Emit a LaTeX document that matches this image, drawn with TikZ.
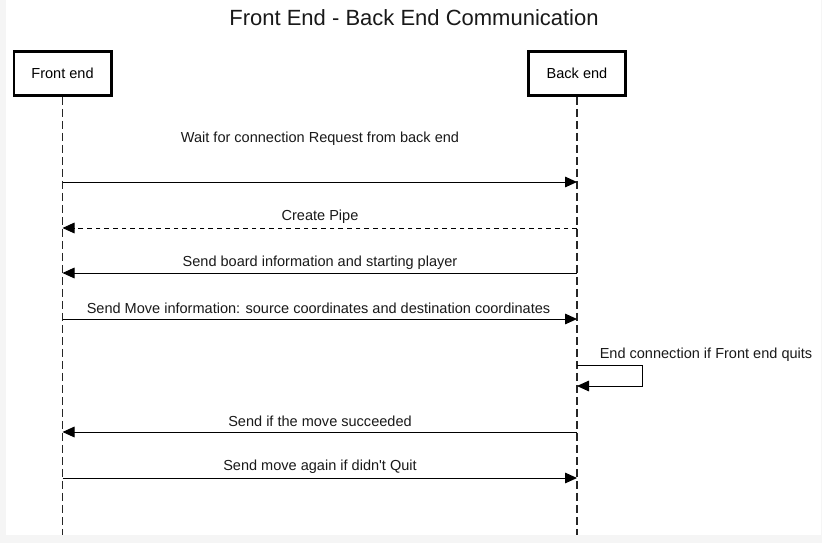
\documentclass[tikz,border=0pt]{standalone}
\usepackage{fontspec}
\setmainfont{Liberation Sans}
\newfontfamily\plainfont{Liberation Sans}
\usetikzlibrary{arrows.meta}
\begin{document}
\begin{tikzpicture}[x=0.75pt,y=-0.75pt,
  actor/.style={draw=black,line width=2pt,fill=white,minimum width=73pt,minimum height=33pt,inner sep=0pt,font=\fontsize{10.9pt}{13pt}\selectfont},
  lifeline/.style={draw=black!85,line width=1pt,dash pattern=on 6pt off 3pt},
  msg/.style={draw=black,line width=0.75pt,-{Triangle[length=9pt,width=8pt]}},
  reply/.style={msg,dash pattern=on 3.5pt off 3pt},
  lbl/.style={font=\fontsize{10.9pt}{13pt}\selectfont,inner sep=0pt,text=black!90},
  titlestyle/.style={font=\fontsize{16.5pt}{19pt}\selectfont,inner sep=0pt,text=black!90}]
\useasboundingbox (0,0) rectangle (822,543);
\fill[black!4] (0,0) rectangle (822,543);
\fill[white] (6,0) rectangle (821,535);
\node[titlestyle] (title) at (414,18) {Front End - Back End Communication};
\node[actor] (fe) at (62.5,73.5) {Front end};
\node[actor] (be) at (577,73.5) {Back end};
\coordinate (feend) at (62.5,535);
\coordinate (beend) at (577,535);
\draw[lifeline] (fe.south) -- (feend);
\draw[lifeline] (be.south) -- (beend);
% message anchors
\coordinate (f1) at (62.5,182); \coordinate (b1) at (577,182);
\coordinate (f2) at (62.5,228); \coordinate (b2) at (577,228);
\coordinate (f3) at (62.5,273); \coordinate (b3) at (577,273);
\coordinate (f4) at (62.5,319); \coordinate (b4) at (577,319);
\coordinate (s1) at (577,365); \coordinate (s2) at (642,365);
\coordinate (s3) at (642,386); \coordinate (s4) at (577,386);
\coordinate (f6) at (62.5,432); \coordinate (b6) at (577,432);
\coordinate (f7) at (62.5,478); \coordinate (b7) at (577,478);
\draw[msg] (f1) -- (b1);
\draw[reply] (b2) -- (f2);
\draw[msg] (b3) -- (f3);
\draw[msg] (f4) -- (b4);
\draw[msg] (s1) -- (s2) -- (s3) -- (s4);
\draw[msg] (b6) -- (f6);
\draw[msg] (f7) -- (b7);
\node[lbl] (t1) at (320,139) {Wait for connection Request from back end};
\node[lbl] (t2) at (320,217) {Create Pipe};
\node[lbl] (t3) at (320,263) {Send board information and starting player};
\node[lbl] (t4) at (318.5,308) {Send Move information: source coordinates and destination coordinates};
\node[lbl] (t5) at (706,355) {End connection if Front end quits};
\node[lbl] (t6) at (320,421) {Send if the move succeeded};
\node[lbl] (t7) at (320,467) {Send move again if didn{\plainfont '}t Quit};
\end{tikzpicture}
\end{document}
